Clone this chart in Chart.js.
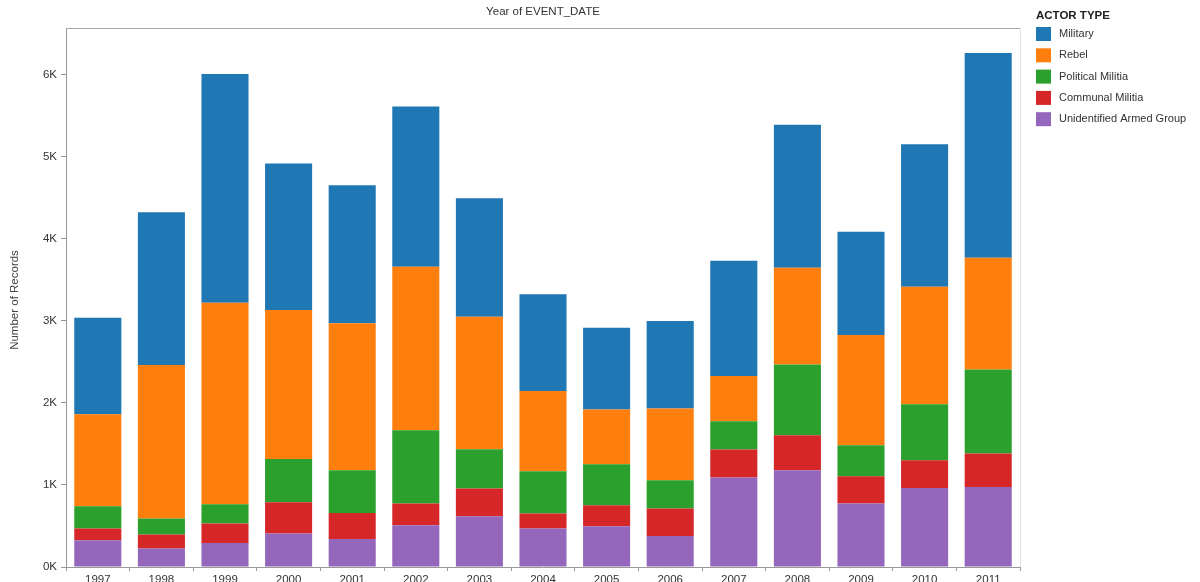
<!DOCTYPE html>
<html lang="en">
<head>
  <meta charset="UTF-8">
  <title>Actor Type by Year</title>
  <script src="https://cdn.jsdelivr.net/npm/chart.js"></script>
  <style>
    body { margin: 0; background: #fff; }
    #wrap { position: relative; width: 1200px; height: 582px; }
  </style>
</head>
<body>
  <div id="wrap"><canvas id="actorChart"></canvas></div>

  <script>
    // data (records per year)
    const years = ["1997", "1998", "1999", "2000", "2001", "2002", "2003", "2004",
                   "2005", "2006", "2007", "2008", "2009", "2010", "2011"];
    const military     = [1175, 1862, 2785, 1785, 1683, 1951, 1444, 1179, 996, 1065, 1406, 1741, 1259, 1736, 2493];
    const rebel        = [1122, 1870, 2455, 1813, 1789, 1992, 1614, 976, 667, 874, 549, 1178, 1342, 1431, 1361];
    const political    = [272, 195, 236, 528, 520, 894, 479, 516, 500, 345, 346, 862, 378, 683, 1024];
    const communal     = [142, 171, 236, 382, 318, 264, 338, 183, 256, 334, 341, 427, 333, 338, 407];
    const unidentified = [326, 224, 293, 407, 341, 509, 618, 468, 496, 378, 1090, 1179, 773, 963, 976];
    const yTicks = [0, 1000, 2000, 3000, 4000, 5000, 6000];

    const FONT = "'Liberation Sans', Arial, sans-serif";

    // frame, titles and the legend on the right
    const extras = {
      id: "extras",
      afterDraw(chart) {
        const ctx = chart.ctx;
        const a = chart.chartArea;
        ctx.save();

        ctx.strokeStyle = "#a8a8a8";
        ctx.lineWidth = 1;
        ctx.beginPath();
        ctx.moveTo(a.left, a.top + 0.5);
        ctx.lineTo(a.right, a.top + 0.5);
        ctx.stroke();
        ctx.strokeStyle = "#e2e2e2";
        ctx.beginPath();
        ctx.moveTo(a.right + 0.5, a.top);
        ctx.lineTo(a.right + 0.5, a.bottom);
        ctx.stroke();

        ctx.fillStyle = "#333";
        ctx.font = "11.5px " + FONT;
        ctx.textAlign = "center";
        ctx.textBaseline = "middle";
        ctx.fillText("Year of EVENT_DATE", (a.left + a.right) / 2, 12);

        ctx.translate(15, 300);
        ctx.rotate(-Math.PI / 2);
        ctx.fillStyle = "#444";
        ctx.fillText("Number of Records", 0, 0);
        ctx.setTransform(1, 0, 0, 1, 0, 0);

        ctx.textAlign = "left";
        ctx.fillStyle = "#222";
        ctx.font = "bold 11.5px " + FONT;
        ctx.fillText("ACTOR TYPE", 1036, 16);

        ctx.font = "11px " + FONT;
        const sets = chart.data.datasets.slice().reverse();
        sets.forEach((ds, i) => {
          const cy = 34 + i * 21.3;
          ctx.fillStyle = ds.backgroundColor;
          ctx.fillRect(1036, cy - 7, 15, 14);
          ctx.fillStyle = "#333";
          ctx.fillText(ds.label, 1059, cy);
        });
        ctx.restore();
      }
    };

    const ctx = document.getElementById("actorChart").getContext("2d");
    new Chart(ctx, {
      type: "bar",
      data: {
        labels: years,
        datasets: [
          { label: "Unidentified Armed Group", data: unidentified, backgroundColor: "#9467bd" },
          { label: "Communal Militia", data: communal, backgroundColor: "#d62728" },
          { label: "Political Militia", data: political, backgroundColor: "#2ca02c" },
          { label: "Rebel", data: rebel, backgroundColor: "#ff7f0e" },
          { label: "Military", data: military, backgroundColor: "#1f77b4" }
        ]
      },
      options: {
        responsive: true,
        maintainAspectRatio: false,
        animation: false,
        layout: { padding: { left: 0, top: 28, right: 180, bottom: 0 } },
        datasets: { bar: { categoryPercentage: 1, barPercentage: 0.74, borderWidth: 0 } },
        plugins: { legend: { display: false }, tooltip: { enabled: false } },
        scales: {
          x: {
            stacked: true,
            grid: { drawOnChartArea: false, drawTicks: true, tickLength: 4, color: "#999" },
            border: { color: "#999" },
            ticks: { color: "#333", font: { family: FONT, size: 11.5 }, padding: 2, maxRotation: 0 },
            afterFit(scale) { scale.height = 15; }
          },
          y: {
            stacked: true,
            min: 0,
            max: 6566,
            grid: { drawOnChartArea: false, drawTicks: true, tickLength: 5, color: "#999" },
            border: { color: "#999" },
            ticks: {
              stepSize: 1000,
              color: "#333",
              padding: 4,
              font: { family: FONT, size: 11.5 },
              callback: v => (v / 1000) + "K"
            },
            afterBuildTicks(scale) {
              scale.ticks = yTicks.map(v => ({ value: v }));
            },
            afterFit(scale) { scale.width = 66; }
          }
        }
      },
      plugins: [extras]
    });
  </script>
</body>
</html>
